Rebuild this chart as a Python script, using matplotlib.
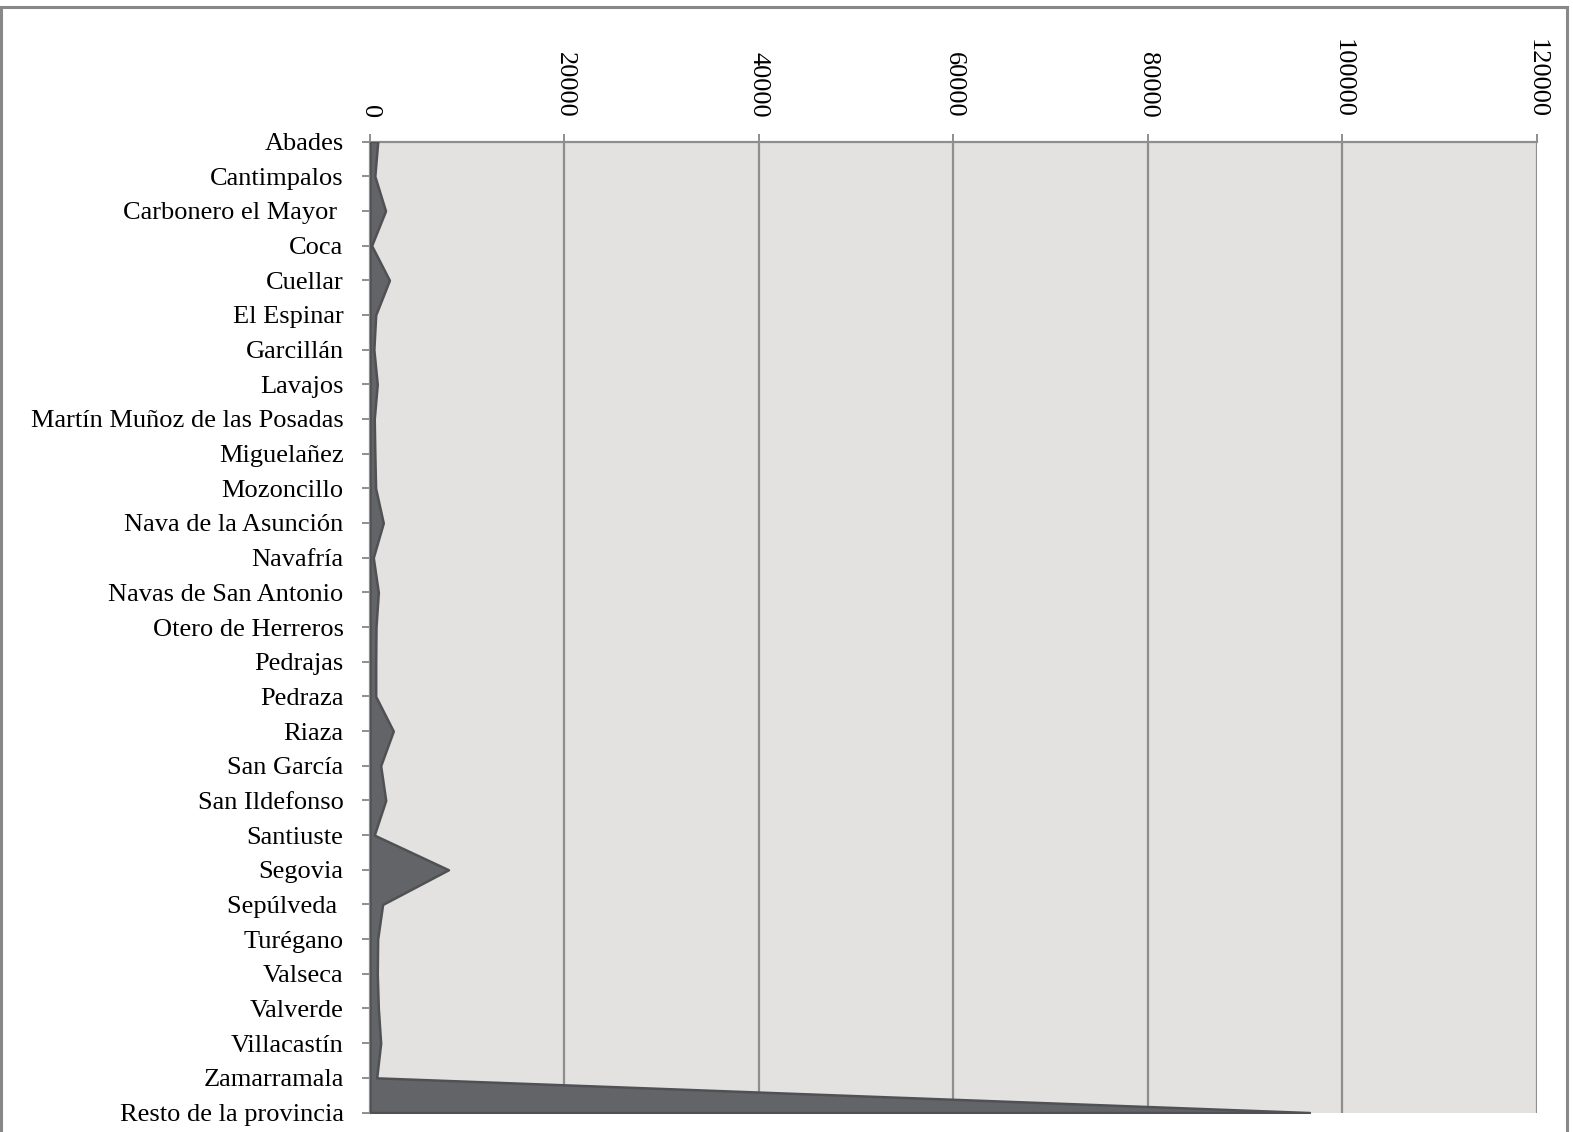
import numpy as np
import matplotlib
matplotlib.use("Agg")
import matplotlib.pyplot as plt
from matplotlib.patches import Rectangle

plt.rcParams['font.family'] = ['Liberation Serif', 'DejaVu Serif']

municipios = ["Abades", "Cantimpalos", "Carbonero el Mayor ", "Coca", "Cuellar",
              "El Espinar", "Garcillán", "Lavajos", "Martín Muñoz de las Posadas",
              "Miguelañez", "Mozoncillo", "Nava de la Asunción", "Navafría",
              "Navas de San Antonio", "Otero de Herreros", "Pedrajas", "Pedraza",
              "Riaza", "San García", "San Ildefonso", "Santiuste", "Segovia",
              "Sepúlveda ", "Turégano", "Valseca", "Valverde", "Villacastín",
              "Zamarramala", "Resto de la provincia"]

valores = [800, 500, 1600, 170, 2000,
           590, 400, 750, 440,
           500, 580, 1370, 340,
           860, 620, 590, 590,
           2400, 1100, 1620, 440, 8070,
           1300, 790, 750, 860, 1100,
           690, 96600]

ticks_x = [0, 20000, 40000, 60000, 80000, 100000, 120000]

fig = plt.figure(figsize=(15.73, 11.32), dpi=100)
ax = fig.add_axes([0.2352, 0.0172, 0.7419, 0.8578])

y = np.arange(len(municipios))
ax.set_facecolor('#e3e2e0')
ax.fill_betweenx(y, 0, valores, color='#636467', edgecolor='#505154', lw=1.8, zorder=3)

ax.set_xlim(0, 120000)
ax.set_ylim(len(municipios) - 1, 0)
ax.set_xticks(ticks_x)
ax.set_xticklabels([str(t) for t in ticks_x], rotation=270, fontsize=19)
ax.xaxis.tick_top()
ax.set_yticks(y)
ax.set_yticklabels(municipios, fontsize=19)

ax.grid(axis='x', color='#8e8e8e', lw=1.6, zorder=1)
ax.set_axisbelow(True)
for s in ['right', 'bottom']:
    ax.spines[s].set_visible(False)
ax.spines['top'].set_color('#8e8e8e')
ax.spines['top'].set_linewidth(1.6)
ax.spines['left'].set_color('#8e8e8e')
ax.spines['left'].set_linewidth(1.6)
ax.tick_params(axis='x', direction='out', length=6, width=1.4, color='#8e8e8e', pad=11)
ax.tick_params(axis='y', direction='out', length=6, width=1.4, color='#8e8e8e', pad=13)

# marco exterior
fig.patches.append(Rectangle((0.0008, -0.05), 0.9955, 1.0435, transform=fig.transFigure,
                             fill=False, edgecolor='#888888', lw=2.2))

fig.savefig('out.png', dpi=100)
